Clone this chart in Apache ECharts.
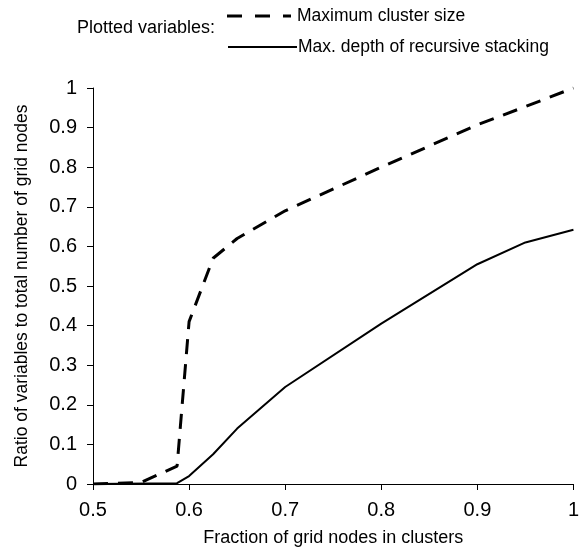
<!DOCTYPE html>
<html>
<head>
<meta charset="utf-8">
<script src="https://cdn.jsdelivr.net/npm/echarts@6/dist/echarts.min.js"></script>
<style>
html,body{margin:0;padding:0;background:#fff;}
#chart{width:582px;height:552px;}
</style>
</head>
<body>
<div id="chart"></div>
<script>
// Maximum cluster size (dashed)
var clusterX = [0.5, 0.55, 0.5875, 0.6, 0.625, 0.65, 0.7, 0.8, 0.9, 0.95, 1.0];
var clusterY = [0, 0.004, 0.045, 0.41, 0.57, 0.62, 0.69, 0.80, 0.907, 0.953, 1.0];
// Max. depth of recursive stacking (solid)
var depthX = [0.5, 0.5875, 0.6, 0.625, 0.65, 0.7, 0.8, 0.9, 0.95, 1.0];
var depthY = [0, 0.002, 0.02, 0.075, 0.14, 0.245, 0.405, 0.555, 0.61, 0.642];

var seriesNames = ['Maximum cluster size', 'Max. depth of recursive stacking'];
var legendTitle = 'Plotted variables:';
var xTitle = 'Fraction of grid nodes in clusters';
var yTitle = 'Ratio of variables to total number of grid nodes';

function pairs(xs, ys){ return xs.map(function(x,i){ return [x, ys[i]]; }); }
function fmt(v){ return (+v.toFixed(1)).toString(); }

var FONT = 'Liberation Sans, Arial, sans-serif';
var DASH = [15, 10];
var chart = echarts.init(document.getElementById('chart'), null, {renderer:'canvas'});
chart.setOption({
  backgroundColor: '#fff',
  animation: false,
  textStyle: {fontFamily: FONT, color: '#000'},
  grid: {left: 93, right: 4, top: 88, bottom: 68, containLabel: false},
  graphic: [
    {type: 'text', x: 77, y: 28,
     style: {text: legendTitle, fontFamily: FONT, fontSize: 18, fill: '#000', verticalAlign: 'middle', textVerticalAlign: 'middle'}},
    {type: 'line', shape: {x1: 227, y1: 16, x2: 291, y2: 16},
     style: {stroke: '#000', lineWidth: 3, lineDash: [15, 13]}},
    {type: 'text', x: 297, y: 16,
     style: {text: seriesNames[0], fontFamily: FONT, fontSize: 17.5, fill: '#000', verticalAlign: 'middle', textVerticalAlign: 'middle'}},
    {type: 'line', shape: {x1: 228, y1: 47, x2: 297, y2: 47},
     style: {stroke: '#000', lineWidth: 2}},
    {type: 'text', x: 298, y: 47,
     style: {text: seriesNames[1], fontFamily: FONT, fontSize: 17.5, fill: '#000', verticalAlign: 'middle', textVerticalAlign: 'middle'}}
  ],
  xAxis: {
    type: 'value', min: 0.5, max: 1, interval: 0.1,
    name: xTitle, nameLocation: 'middle', nameGap: 45,
    nameTextStyle: {fontFamily: FONT, fontSize: 18, color: '#000'},
    axisLine: {show: true, lineStyle: {color: '#000', width: 1}},
    axisTick: {show: true, length: 6, lineStyle: {color: '#000'}},
    axisLabel: {fontFamily: FONT, fontSize: 20, color: '#000', margin: 16, formatter: fmt},
    splitLine: {show: false}
  },
  yAxis: {
    type: 'value', min: 0, max: 1, interval: 0.1,
    name: yTitle, nameLocation: 'middle', nameGap: 62, nameRotate: 90,
    nameTextStyle: {fontFamily: FONT, fontSize: 17.5, color: '#000'},
    axisLine: {show: true, lineStyle: {color: '#000', width: 1}},
    axisTick: {show: true, length: 6, lineStyle: {color: '#000'}},
    axisLabel: {fontFamily: FONT, fontSize: 20, color: '#000', margin: 16, formatter: fmt},
    splitLine: {show: false}
  },
  series: [{
    name: seriesNames[0], type: 'line', symbol: 'none',
    data: pairs(clusterX, clusterY),
    lineStyle: {color: '#000', width: 3, type: DASH},
    itemStyle: {color: '#000'}
  }, {
    name: seriesNames[1], type: 'line', symbol: 'none',
    data: pairs(depthX, depthY),
    lineStyle: {color: '#000', width: 2, type: 'solid'},
    itemStyle: {color: '#000'}
  }]
});
</script>
</body>
</html>
